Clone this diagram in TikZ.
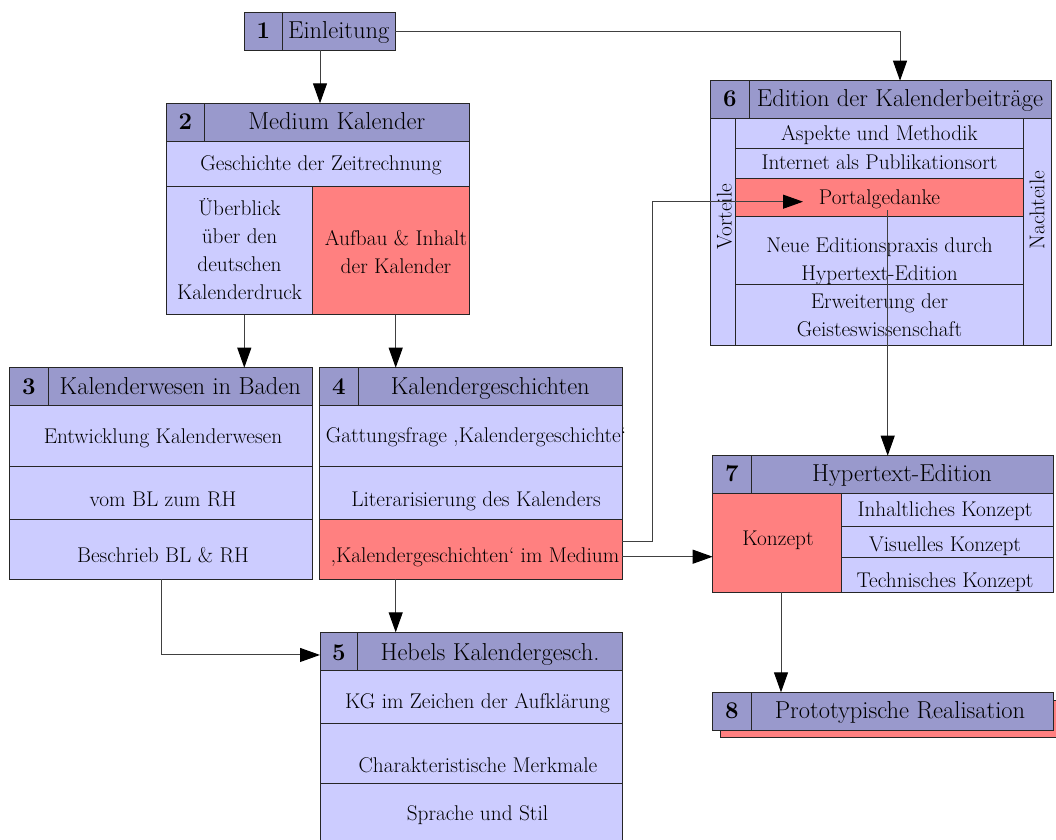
\documentclass[tikz,border=0pt]{standalone}
\usetikzlibrary{arrows.meta}
\definecolor{headfill}{HTML}{9999CC}
\definecolor{bodyfill}{HTML}{CCCCFF}
\definecolor{accent}{HTML}{FF8080}
% \mkcell{name}{left}{top}{right}{bottom}{fill}
\newcommand\mkcell[6]{%
  \node[cellbox,fill=#6,minimum width=#4pt-#2pt,minimum height=#5pt-#3pt] (#1) at (#2,#3) {};}
\begin{document}
\begin{tikzpicture}[x=1pt,y=-1pt,
  cellbox/.style={draw=black!85,line width=0.9pt,inner sep=0pt,outer sep=0pt,anchor=north west},
  hd/.style={font=\fontsize{24.5}{28}\selectfont,inner sep=0pt,anchor=base},
  num/.style={font=\fontsize{24}{28}\selectfont\bfseries,inner sep=0pt,anchor=base},
  tx/.style={font=\fontsize{21.3}{28}\selectfont,align=center,inner sep=0pt,anchor=base},
  side/.style={font=\fontsize{21.3}{28}\selectfont,inner sep=0pt,rotate=90},
  conn/.style={draw=black!75,line width=1pt},
  arr/.style={conn,-{Triangle[length=20pt,width=14pt,color=black]}}]
\clip (0,0) rectangle (1056,839);

% 1 Einleitung
\mkcell{b1n}{244.3}{12.7}{282.3}{50}{headfill}
\mkcell{b1h}{282.3}{12.7}{395.3}{50}{headfill}
\node[num] (b1nt) at (263.3,38.3) {1};
\node[hd] (b1ht) at (338.8,38.3) {Einleitung};

% 2 Medium Kalender
\mkcell{b2n}{166.7}{103.3}{204.3}{141}{headfill}
\mkcell{b2h}{204.3}{103.3}{469.3}{141}{headfill}
\mkcell{b2a}{166.7}{141}{469.3}{186}{bodyfill}
\mkcell{b2b}{166.7}{186}{312.3}{314.7}{bodyfill}
\mkcell{b2c}{312.3}{186}{469.3}{314.7}{accent}
\node[num] (b2nt) at (185.5,129.3) {2};
\node[hd] (b2ht) at (336.8,129.3) {Medium Kalender};
\node[tx] (b2at) at (321,170.7) {Geschichte der Zeitrechnung};
\node[tx] (b2bt) at (239.5,299.3) {Überblick\\über den\\deutschen\\Kalenderdruck};
\node[tx] (b2ct) at (396,273.3) {Aufbau \& Inhalt\\der Kalender};

% 3 Kalenderwesen in Baden
\mkcell{b3n}{9.3}{367.7}{48.3}{405.7}{headfill}
\mkcell{b3h}{48.3}{367.7}{312.3}{405.7}{headfill}
\mkcell{b3a}{9.3}{405.7}{312.3}{466}{bodyfill}
\mkcell{b3b}{9.3}{466}{312.3}{519.3}{bodyfill}
\mkcell{b3c}{9.3}{519.3}{312.3}{579.3}{bodyfill}
\node[num] (b3nt) at (28.8,394.3) {3};
\node[hd] (b3ht) at (180.3,394.3) {Kalenderwesen in Baden};
\node[tx] (b3at) at (163,443.3) {Entwicklung Kalenderwesen};
\node[tx] (b3bt) at (163,506.7) {vom BL zum RH};
\node[tx] (b3ct) at (163,562.7) {Beschrieb BL \& RH};

% 4 Kalendergeschichten
\mkcell{b4n}{319.3}{367.7}{358.3}{405.7}{headfill}
\mkcell{b4h}{358.3}{367.7}{622.3}{405.7}{headfill}
\mkcell{b4a}{319.3}{405.7}{622.3}{466}{bodyfill}
\mkcell{b4b}{319.3}{466}{622.3}{519.3}{bodyfill}
\mkcell{b4c}{319.3}{519.3}{622.3}{579.3}{accent}
\node[num] (b4nt) at (338.8,394.3) {4};
\node[hd] (b4ht) at (490.3,394.3) {Kalendergeschichten};
\node[tx] (b4at) at (476,442.7) {Gattungsfrage ‚Kalendergeschichte‘};
\node[tx] (b4bt) at (476,506.7) {Literarisierung des Kalenders};
\node[tx] (b4ct) at (475,562.7) {‚Kalendergeschichten‘ im Medium};

% 5 Hebels Kalendergeschichten
\mkcell{b5n}{320}{632.3}{357.7}{670}{headfill}
\mkcell{b5h}{357.7}{632.3}{622.3}{670}{headfill}
\mkcell{b5a}{320}{670}{622.3}{723.3}{bodyfill}
\mkcell{b5b}{320}{723.3}{622.3}{783.3}{bodyfill}
\mkcell{b5c}{320}{783.3}{622.3}{850}{bodyfill}
\node[num] (b5nt) at (338.8,660) {5};
\node[hd] (b5ht) at (490,660) {Hebels Kalendergesch.};
\node[tx] (b5at) at (477.5,708.3) {KG im Zeichen der Aufklärung};
\node[tx] (b5bt) at (478,772.3) {Charakteristische Merkmale};
\node[tx] (b5ct) at (477.5,820) {Sprache und Stil};

% 6 Edition der Kalenderbeiträge
\mkcell{b6n}{710.7}{80.7}{749}{118.3}{headfill}
\mkcell{b6h}{749}{80.7}{1051}{118.3}{headfill}
\mkcell{b6l}{710.7}{118.3}{735.7}{345}{bodyfill}
\mkcell{b6r}{1023.3}{118.3}{1051}{345}{bodyfill}
\mkcell{b6a}{735.7}{118.3}{1023.3}{148.7}{bodyfill}
\mkcell{b6b}{735.7}{148.7}{1023.3}{178.7}{bodyfill}
\mkcell{b6c}{735.7}{178.7}{1023.3}{216.3}{accent}
\mkcell{b6d}{735.7}{216.3}{1023.3}{284.7}{bodyfill}
\mkcell{b6e}{735.7}{284.7}{1023.3}{345}{bodyfill}
\node[num] (b6nt) at (729.8,106.7) {6};
\node[hd] (b6ht) at (900,106.7) {Edition der Kalenderbeiträge};
\node[tx] (b6at) at (879.5,140.7) {Aspekte und Methodik};
\node[tx] (b6bt) at (879.5,169.3) {Internet als Publikationsort};
\node[tx] (b6ct) at (879.5,204.3) {Portalgedanke};
\node[tx] (b6dt) at (879.5,280.7) {Neue Editionspraxis durch\\Hypertext-Edition};
\node[tx] (b6et) at (879.5,336.7) {Erweiterung der\\Geisteswissenschaft};
\node[side] (b6lt) at (724.5,216.7) {Vorteile};
\node[side] (b6rt) at (1037,210) {Nachteile};

% 7 Hypertext-Edition
\mkcell{b7n}{712.7}{455.7}{751}{493.3}{headfill}
\mkcell{b7h}{751}{455.7}{1053.3}{493.3}{headfill}
\mkcell{b7k}{712.7}{493.3}{841.7}{592.3}{accent}
\mkcell{b7a}{841.7}{493.3}{1053.3}{526.7}{bodyfill}
\mkcell{b7b}{841.7}{526.7}{1053.3}{557}{bodyfill}
\mkcell{b7c}{841.7}{557}{1053.3}{592.3}{bodyfill}
\node[num] (b7nt) at (731.8,481.7) {7};
\node[hd] (b7ht) at (902,481.7) {Hypertext-Edition};
\node[tx] (b7kt) at (778,545) {Konzept};
\node[tx] (b7at) at (945,516) {Inhaltliches Konzept};
\node[tx] (b7bt) at (945,551.7) {Visuelles Konzept};
\node[tx] (b7ct) at (945,587.3) {Technisches Konzept};

% 8 Prototypische Realisation, with its offset backing panel
\mkcell{b8s}{720.7}{700}{1062}{737.7}{accent}
\mkcell{b8n}{712.7}{692.3}{751}{730}{headfill}
\mkcell{b8h}{751}{692.3}{1053.3}{730}{headfill}
\node[num] (b8nt) at (731.8,718.3) {8};
\node[hd] (b8ht) at (900,718.3) {Prototypische Realisation};

% connectors
\draw[arr] (b1h.east) -| (b6h.north);
\draw[arr] ([xshift=-18.8]b1h.south) -- ([xshift=-18.8]b1h.south |- b2h.north);
\draw[arr] ([xshift=4.8]b2b.south) -- ([xshift=4.8]b2b.south |- b3h.north);
\draw[arr] ([xshift=4.9]b2c.south) -- ([xshift=4.9]b2c.south |- b4h.north);
\draw[arr] ([xshift=76.4]b4c.south west) -- ([xshift=76.4]b4c.south west |- b5h.north);
\draw[arr] ([xshift=151.7]b3c.south west) |- ([yshift=-3.8]b5n.west);
\draw[arr] ([yshift=7.6]b4c.east) -- ++(30.4,0) |- ([xshift=67.3,yshift=-4.2]b6c.west);
\draw[arr] ([yshift=-7.4]b4c.east) -- ([yshift=-7.4]b4c.east -| b7k.west);
\draw[arr] ([xshift=8.2,yshift=6]b6c.south) -- ([xshift=8.2]b6c.south |- b7h.north);
\draw[arr] ([xshift=3.8]b7k.south) -- ([xshift=3.8]b7k.south |- b8h.north);
\end{tikzpicture}
\end{document}
